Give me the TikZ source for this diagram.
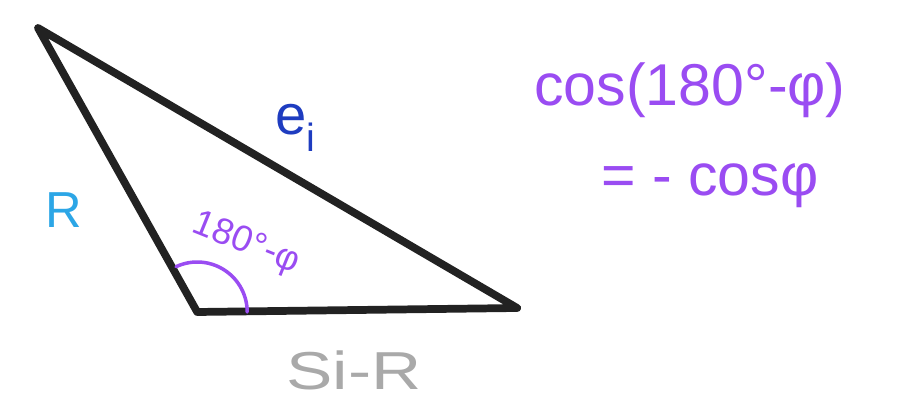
\documentclass[tikz,border=0pt]{standalone}
\usepackage{fontspec}
\setmainfont{Liberation Sans}
\usetikzlibrary{calc}
\definecolor{cPur}{HTML}{9A4CF2}
\definecolor{cBlu}{HTML}{1E3CC0}
\definecolor{cCya}{HTML}{2CA6E6}
\definecolor{cGry}{HTML}{A9A9A9}
\definecolor{ink}{HTML}{222222}
\tikzset{pen/.style={line width=5.5pt,line cap=round,line join=round,ink},
  lbl/.style={inner sep=0pt,font=\fontsize{#1}{#1}\selectfont},
  lbl/.default=32}

\begin{document}
\begin{tikzpicture}
  \useasboundingbox (0,0) rectangle (22.55,10.05);
  % triangle
  \coordinate (A) at (0.95,9.35);
  \coordinate (B) at (4.93,2.25);
  \coordinate (C) at (12.93,2.35);
  \draw[pen] (A) -- (B) -- (C) -- cycle;
  \draw[cPur,line width=2.5pt,line cap=round] ($(B)+(115:1.25)$) arc (115:0:1.25);
  \node[lbl=36,cCya] (r) at (1.6,4.8) {R};
  \node[lbl=40,cBlu] (ei) at (7.4,6.85) {e\textsubscript{i}};
  \node[lbl=26,cPur,rotate=-22] (ang) at (6.15,3.95) {180°-φ};
  \node[lbl=38,cGry,xscale=1.3] (side) at (8.85,0.8) {Si-R};
  % identity
  \node[lbl=42,cPur] (cosa) at (17.25,7.8) {cos(180°-φ)};
  \node[lbl=42,cPur] (cosb) at (17.75,5.4) {= - cosφ};
\end{tikzpicture}
\end{document}
